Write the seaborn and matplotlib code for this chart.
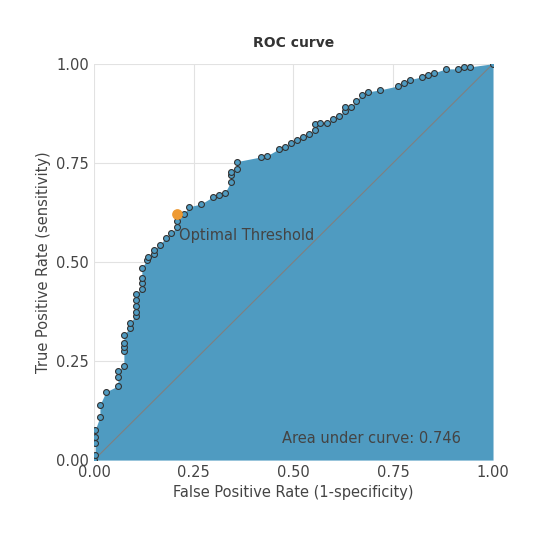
import matplotlib
matplotlib.use("Agg")
import matplotlib.pyplot as plt
import seaborn as sns
import pandas as pd

fpr = [0.0, 0.003, 0.003, 0.003, 0.003, 0.015, 0.015, 0.030, 0.060, 0.060, 0.060, 0.075, 0.075, 0.075, 0.075, 0.075,
       0.090, 0.090, 0.105, 0.105, 0.105, 0.105, 0.105, 0.120, 0.120, 0.120, 0.120, 0.133, 0.135, 0.150, 0.150,
       0.165, 0.180, 0.193, 0.208, 0.208, 0.226, 0.238, 0.268, 0.298, 0.313, 0.328, 0.343, 0.343, 0.343, 0.358, 0.358,
       0.419, 0.434, 0.464, 0.479, 0.494, 0.509, 0.524, 0.539, 0.554, 0.554, 0.566, 0.584, 0.599, 0.614, 0.629, 0.629,
       0.644, 0.657, 0.672, 0.687, 0.717, 0.762, 0.777, 0.792, 0.822, 0.837, 0.852, 0.882, 0.912, 0.927, 0.942, 1.0]
tpr = [0.0, 0.013, 0.043, 0.058, 0.076, 0.109, 0.139, 0.172, 0.187, 0.210, 0.225, 0.237, 0.275, 0.285, 0.295, 0.316,
       0.333, 0.346, 0.364, 0.374, 0.389, 0.404, 0.419, 0.432, 0.447, 0.460, 0.485, 0.505, 0.513, 0.520, 0.530,
       0.543, 0.561, 0.573, 0.588, 0.604, 0.621, 0.639, 0.646, 0.664, 0.669, 0.674, 0.702, 0.720, 0.727, 0.735, 0.753,
       0.765, 0.768, 0.785, 0.790, 0.801, 0.808, 0.816, 0.823, 0.833, 0.848, 0.851, 0.851, 0.861, 0.869, 0.881, 0.891,
       0.891, 0.907, 0.922, 0.929, 0.934, 0.944, 0.952, 0.960, 0.967, 0.972, 0.977, 0.987, 0.987, 0.992, 0.992, 1.0]
opt_fpr, opt_tpr = [0.208], [0.62]
auc = 0.746

df = pd.DataFrame({"fpr": fpr, "tpr": tpr})
sns.set_style("white")
plt.rcParams['font.family'] = ['DejaVu Sans']
fig, ax = plt.subplots(figsize=(5.4, 5.4), dpi=100)
fig.subplots_adjust(left=0.174, right=0.913, top=0.882, bottom=0.148)

ax.grid(True, color="#e2e2e2", lw=0.8)
ax.set_axisbelow(True)
ax.fill_between(fpr, tpr, 0, color="#4f9bc1", lw=0, zorder=2)
ax.plot([0, 1], [0, 1], color="#808080", lw=0.8, zorder=3)
sns.scatterplot(data=df, x="fpr", y="tpr", ax=ax, color="#4f9bc1", edgecolor="#333333",
                linewidth=0.8, s=18, marker="o", zorder=4, legend=False)
ax.scatter(opt_fpr, opt_tpr, color="#ee9a33", s=45, zorder=5)
ax.text(opt_fpr[0] + 0.005, opt_tpr[0] - 0.035, "Optimal Threshold", fontsize=10.5, color="#444444",
        va="top", zorder=6)
ax.text(0.92, 0.035, f"Area under curve: {auc}", fontsize=10.5, color="#444444", ha="right", va="bottom", zorder=6)

ax.set_xlim(0, 1)
ax.set_ylim(0, 1)
ticks = [0, 0.25, 0.5, 0.75, 1.0]
ax.set_xticks(ticks)
ax.set_yticks(ticks)
ax.set_xticklabels(["0.00", "0.25", "0.50", "0.75", "1.00"], fontsize=10.5, color="#444444")
ax.set_yticklabels(["0.00", "0.25", "0.50", "0.75", "1.00"], fontsize=10.5, color="#444444")
ax.set_xlabel("False Positive Rate (1-specificity)", fontsize=10.5, color="#444444")
ax.set_ylabel("True Positive Rate (sensitivity)", fontsize=10.5, color="#444444")
ax.set_title("ROC curve", fontsize=10, fontweight="bold", color="#333333", pad=12)
for s in ax.spines.values():
    s.set_visible(False)
ax.tick_params(length=0)
fig.savefig("out.png", dpi=100)
